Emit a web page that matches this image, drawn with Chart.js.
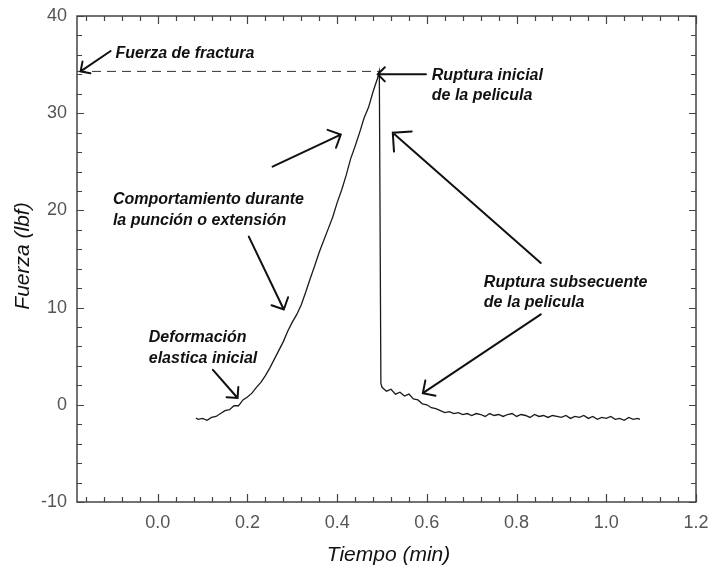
<!DOCTYPE html>
<html>
<head>
<meta charset="utf-8">
<script src="https://cdn.jsdelivr.net/npm/chart.js@4.4.0/dist/chart.umd.min.js"></script>
<style>
  body { margin: 0; background: #fff; }
  #wrap { width: 709px; height: 567px; }
</style>
</head>
<body>
<div id="wrap"><canvas id="forceChart"></canvas></div>
<script>
// Puncture test record: force (lbf) against time (min)
const timeMin = [
    0.085, 0.09, 0.10, 0.11, 0.12, 0.13, 0.14, 0.15, 0.16, 0.17, 0.18, 0.19,
    0.20, 0.21, 0.22, 0.23, 0.24, 0.25, 0.26, 0.27, 0.28, 0.29,
    0.30, 0.31, 0.32, 0.33, 0.34, 0.35, 0.36, 0.37, 0.38, 0.39,
    0.40, 0.41, 0.42, 0.43, 0.44, 0.45, 0.46, 0.47, 0.48, 0.49, 0.494, 0.4975,
    0.50, 0.51, 0.52, 0.53, 0.54, 0.55, 0.56, 0.57, 0.58, 0.59,
    0.60, 0.61, 0.62, 0.63, 0.64, 0.65, 0.66, 0.67, 0.68, 0.69,
    0.70, 0.71, 0.72, 0.73, 0.74, 0.75, 0.76, 0.77, 0.78, 0.79,
    0.80, 0.81, 0.82, 0.83, 0.84, 0.85, 0.86, 0.87, 0.88, 0.89,
    0.90, 0.91, 0.92, 0.93, 0.94, 0.95, 0.96, 0.97, 0.98, 0.99,
    1.00, 1.01, 1.02, 1.03, 1.04, 1.05, 1.06, 1.07, 1.075
];
const forceLbf = [
    -1.35, -1.5, -1.4, -1.6, -1.3, -1.2, -0.9, -0.6, -0.5, -0.1, -0.1, 0.5,
    0.8, 1.2, 1.8, 2.3, 3.0, 3.8, 4.7, 5.6, 6.5, 7.6,
    8.5, 9.3, 10.3, 11.6, 13.0, 14.3, 15.7, 16.9, 18.1, 19.3,
    20.8, 22.1, 23.6, 25.3, 26.6, 28.0, 29.5, 30.6, 32.2, 33.6, 34.3, 2.2,
    1.8, 1.4, 1.6, 1.1, 1.3, 0.9, 1.1, 0.6, 0.5, 0.1,
    0.0, -0.3, -0.4, -0.6, -0.8, -0.7, -0.9, -0.8, -1.0, -0.9,
    -1.1, -0.9, -1.0, -1.2, -0.9, -1.1, -1.0, -1.2, -1.0, -0.9,
    -1.2, -1.0, -1.1, -1.3, -1.0, -1.2, -1.1, -1.3, -1.1, -1.2,
    -1.3, -1.1, -1.4, -1.2, -1.3, -1.1, -1.4, -1.2, -1.5, -1.3,
    -1.4, -1.2, -1.5, -1.4, -1.6, -1.3, -1.5, -1.4, -1.5
];
const xTicks = [0, 0.2, 0.4, 0.6, 0.8, 1.0, 1.2];
const xTickLabels = ['0.0', '0.2', '0.4', '0.6', '0.8', '1.0', '1.2'];
const yTicks = [-10, 0, 10, 20, 30, 40];
const xMin = -0.18, xMax = 1.2, yMin = -10, yMax = 40;

// Fracture force = the peak of the record
const peakIdx = forceLbf.indexOf(Math.max(...forceLbf));
const fractureForce = forceLbf[peakIdx];
const fractureTime = timeMin[peakIdx];

// Callout text (data coordinates of the left end of each line)
const notes = [
    { x: -0.094, y: 36.1, lines: ['Fuerza de fractura'] },
    { x: 0.611, y: 33.9, lines: ['Ruptura inicial', 'de la pelicula'] },
    { x: -0.10, y: 21.1, lines: ['Comportamiento durante', 'la punción o extensión'] },
    { x: -0.02, y: 6.9, lines: ['Deformación', 'elastica inicial'] },
    { x: 0.727, y: 12.6, lines: ['Ruptura subsecuente', 'de la pelicula'] }
];
// Arrows: from [x, y] to [x, y], head at the second point
const arrows = [
    { from: [-0.105, 36.4], to: [-0.172, 34.3], head: 10 },
    { from: [0.598, 34.0], to: [0.4905, 34.0], head: 10 },
    { from: [0.256, 24.5], to: [0.408, 27.8], head: 14 },
    { from: [0.203, 17.3], to: [0.281, 9.8], head: 13 },
    { from: [0.123, 3.6], to: [0.178, 0.7], head: 11 },
    { from: [0.854, 14.6], to: [0.524, 28.0], head: 19 },
    { from: [0.854, 9.3], to: [0.591, 1.2], head: 13 }
];

const curve = timeMin.map((t, i) => ({ x: t, y: forceLbf[i] }));
const fractureLine = [{ x: xMin, y: fractureForce }, { x: fractureTime, y: fractureForce }];

const FONT = "'Liberation Sans', Arial, sans-serif";

// Box around the plot with inward ticks on all four sides
const framePlugin = {
    id: 'frame',
    afterDraw(chart) {
        const { ctx, chartArea: a, scales: { x, y } } = chart;
        ctx.save();
        ctx.strokeStyle = '#444';
        ctx.lineWidth = 1.5;
        ctx.strokeRect(a.left, a.top, a.right - a.left, a.bottom - a.top);
        ctx.lineWidth = 1.2;
        ctx.beginPath();
        for (let k = -4; k <= 30; k++) {
            const px = Math.round(x.getPixelForValue(k * 0.04)) + 0.5;
            const len = k % 5 === 0 ? 8 : 5;
            ctx.moveTo(px, a.bottom); ctx.lineTo(px, a.bottom - len);
            ctx.moveTo(px, a.top); ctx.lineTo(px, a.top + len);
        }
        for (let k = -5; k <= 20; k++) {
            const py = Math.round(y.getPixelForValue(k * 2)) + 0.5;
            const len = k % 5 === 0 ? 7 : 5;
            ctx.moveTo(a.left, py); ctx.lineTo(a.left + len, py);
            ctx.moveTo(a.right, py); ctx.lineTo(a.right - len, py);
        }
        ctx.stroke();

        // Axis titles
        ctx.fillStyle = '#111';
        ctx.font = 'italic 21px ' + FONT;
        ctx.textAlign = 'center';
        ctx.textBaseline = 'middle';
        ctx.fillText('Tiempo (min)', (a.left + a.right) / 2 + 2, 555);
        ctx.translate(23, 256);
        ctx.rotate(-Math.PI / 2);
        ctx.fillText('Fuerza (lbf)', 0, 0);
        ctx.restore();
    }
};

// Callout labels and arrows
const notesPlugin = {
    id: 'notes',
    afterDraw(chart) {
        const { ctx, scales: { x, y } } = chart;
        ctx.save();
        ctx.fillStyle = '#111';
        ctx.font = 'italic bold 16px ' + FONT;
        ctx.textAlign = 'left';
        ctx.textBaseline = 'middle';
        notes.forEach(n => {
            n.lines.forEach((line, i) => {
                ctx.fillText(line, x.getPixelForValue(n.x), y.getPixelForValue(n.y) + i * 20.5);
            });
        });

        ctx.strokeStyle = '#111';
        ctx.lineWidth = 2;
        ctx.lineCap = 'round';
        arrows.forEach(ar => {
            const x0 = x.getPixelForValue(ar.from[0]), y0 = y.getPixelForValue(ar.from[1]);
            const x1 = x.getPixelForValue(ar.to[0]), y1 = y.getPixelForValue(ar.to[1]);
            const ang = Math.atan2(y1 - y0, x1 - x0);
            const spread = Math.PI / 4;
            ctx.beginPath();
            ctx.moveTo(x0, y0);
            ctx.lineTo(x1, y1);
            ctx.moveTo(x1 - ar.head * Math.cos(ang - spread), y1 - ar.head * Math.sin(ang - spread));
            ctx.lineTo(x1, y1);
            ctx.lineTo(x1 - ar.head * Math.cos(ang + spread), y1 - ar.head * Math.sin(ang + spread));
            ctx.stroke();
        });
        ctx.restore();
    }
};

document.addEventListener('DOMContentLoaded', function () {
    const ctx = document.getElementById('forceChart').getContext('2d');
    new Chart(ctx, {
        type: 'scatter',
        data: {
            datasets: [{
                label: 'Fuerza',
                data: curve,
                showLine: true,
                borderColor: '#1a1a1a',
                borderWidth: 1.3,
                pointRadius: 0,
                tension: 0
            }, {
                label: 'Fuerza de fractura',
                data: fractureLine,
                showLine: true,
                borderColor: '#333',
                borderWidth: 1,
                borderDash: [9, 6],
                pointRadius: 0
            }]
        },
        options: {
            responsive: true,
            maintainAspectRatio: false,
            animation: false,
            layout: {
                padding: { left: 0, right: 13, top: 16, bottom: 0 }
            },
            plugins: {
                legend: { display: false },
                tooltip: { enabled: false }
            },
            scales: {
                x: {
                    type: 'linear',
                    min: xMin,
                    max: xMax,
                    grid: { display: false, drawTicks: false },
                    border: { display: false },
                    afterBuildTicks: scale => {
                        scale.ticks = xTicks.map(v => ({ value: v }));
                    },
                    afterFit: scale => {
                        scale.height = 65;
                        // let the last label hang into the page margin
                        scale.paddingLeft = 0;
                        scale.paddingRight = 0;
                    },
                    ticks: {
                        padding: 10,
                        color: '#555',
                        font: { family: FONT, size: 18 },
                        maxRotation: 0,
                        callback: (value) => xTickLabels[xTicks.indexOf(value)]
                    }
                },
                y: {
                    min: yMin,
                    max: yMax,
                    grid: { display: false, drawTicks: false },
                    border: { display: false },
                    afterBuildTicks: scale => {
                        scale.ticks = yTicks.map(v => ({ value: v }));
                    },
                    afterFit: scale => {
                        scale.width = 77;
                        scale.paddingTop = 0;
                        scale.paddingBottom = 0;
                    },
                    ticks: {
                        padding: 10,
                        color: '#555',
                        font: { family: FONT, size: 18 }
                    }
                }
            }
        },
        plugins: [framePlugin, notesPlugin]
    });
});
</script>
</body>
</html>
